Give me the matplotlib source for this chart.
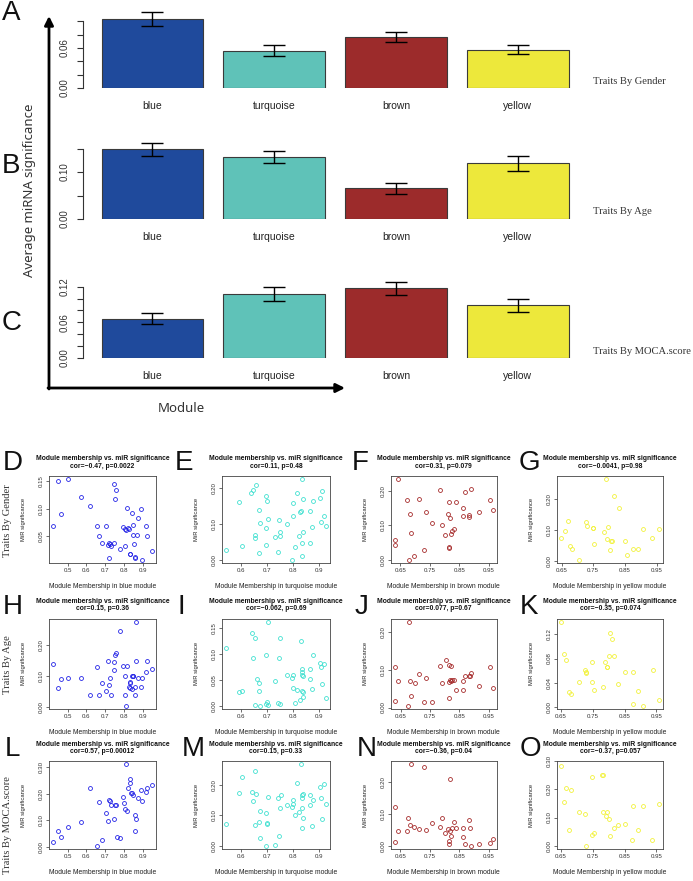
import matplotlib
matplotlib.use('Agg')
import matplotlib.pyplot as plt
from matplotlib.ticker import FormatStrFormatter
import numpy as np

# ---------------- data ----------------
modules = ['blue', 'turquoise', 'brown', 'yellow']
bar_colors = ['#1f4a9c', '#5fc2b8', '#9c2b2b', '#ede83b']
traits = ['Traits By Gender', 'Traits By Age', 'Traits By MOCA.score']

gender_mean = [0.103, 0.056, 0.0765, 0.0575]
gender_err = [0.0105, 0.0085, 0.008, 0.0068]
age_mean = [0.148, 0.132, 0.065, 0.1185]
age_err = [0.014, 0.012, 0.012, 0.016]
moca_mean = [0.066, 0.108, 0.117, 0.0885]
moca_err = [0.0088, 0.012, 0.0115, 0.0113]

gender_ticks = [0.00, 0.02, 0.04, 0.06, 0.08, 0.10]
gender_ticklabels = ['0.00', '', '', '0.06', '', '']
age_ticks = [0.00, 0.05, 0.10, 0.15]
age_ticklabels = ['0.00', '', '0.10', '']
moca_ticks = [0.00, 0.02, 0.04, 0.06, 0.08, 0.10, 0.12]
moca_ticklabels = ['0.00', '', '', '0.06', '', '', '0.12']

scatter_colors = {'blue': '#2323e6', 'turquoise': '#40e0d0', 'brown': '#a52a2a', 'yellow': '#f2f23a'}

# blue module
D_x = [0.423,0.449,0.463,0.500,0.570,0.619,0.654,0.668,0.684,0.702,0.712,0.719,0.726,0.728,0.719,0.744,0.744,0.758,0.753,0.777,0.793,0.802,0.805,0.811,0.816,0.818,0.825,0.830,0.833,0.839,0.844,0.846,0.854,0.856,0.858,0.865,0.874,0.891,0.895,0.914,0.919,0.947]
D_y = [0.068,0.149,0.091,0.153,0.121,0.104,0.069,0.051,0.039,0.069,0.035,0.038,0.036,0.033,0.012,0.039,0.144,0.134,0.117,0.027,0.067,0.033,0.064,0.061,0.102,0.065,0.064,0.019,0.018,0.093,0.071,0.053,0.036,0.013,0.011,0.052,0.083,0.100,0.008,0.069,0.051,0.024]
H_x = [0.423,0.449,0.463,0.500,0.570,0.619,0.654,0.668,0.684,0.702,0.712,0.719,0.726,0.728,0.744,0.744,0.753,0.758,0.777,0.793,0.802,0.805,0.811,0.816,0.825,0.828,0.830,0.833,0.839,0.842,0.844,0.847,0.856,0.858,0.861,0.863,0.874,0.891,0.895,0.914,0.919,0.947]
H_y = [0.139,0.061,0.089,0.091,0.091,0.036,0.128,0.036,0.077,0.050,0.148,0.071,0.091,0.039,0.118,0.144,0.166,0.174,0.244,0.130,0.038,0.098,0.003,0.132,0.064,0.076,0.060,0.080,0.058,0.099,0.100,0.099,0.062,0.036,0.147,0.274,0.094,0.062,0.094,0.112,0.148,0.120]
L_x = [0.423,0.449,0.463,0.500,0.570,0.619,0.654,0.668,0.684,0.702,0.712,0.719,0.726,0.728,0.744,0.749,0.758,0.763,0.777,0.793,0.800,0.805,0.811,0.816,0.821,0.828,0.832,0.837,0.840,0.846,0.856,0.858,0.861,0.874,0.891,0.895,0.914,0.919,0.947]
L_y = [0.021,0.062,0.040,0.077,0.095,0.220,0.006,0.170,0.027,0.126,0.099,0.175,0.173,0.158,0.106,0.158,0.158,0.037,0.035,0.186,0.164,0.143,0.309,0.136,0.220,0.238,0.253,0.201,0.201,0.195,0.119,0.062,0.105,0.185,0.212,0.173,0.205,0.220,0.232]

# turquoise module
E_x = [0.539,0.591,0.601,0.639,0.646,0.656,0.652,0.653,0.668,0.672,0.670,0.694,0.695,0.699,0.696,0.703,0.730,0.747,0.743,0.750,0.751,0.776,0.797,0.802,0.802,0.807,0.816,0.823,0.828,0.831,0.835,0.836,0.837,0.841,0.841,0.865,0.867,0.876,0.880,0.904,0.910,0.913,0.922,0.929]
E_y = [0.027,0.163,0.039,0.188,0.195,0.209,0.069,0.061,0.140,0.103,0.020,0.042,0.180,0.166,0.089,0.115,0.064,0.112,0.022,0.077,0.068,0.100,0.000,0.159,0.122,0.037,0.187,0.067,0.135,0.138,0.011,0.047,0.226,0.171,0.078,0.138,0.048,0.091,0.165,0.172,0.105,0.193,0.122,0.096]
I_x = [0.539,0.591,0.601,0.640,0.647,0.653,0.653,0.659,0.669,0.670,0.672,0.694,0.694,0.698,0.702,0.704,0.730,0.747,0.750,0.743,0.750,0.776,0.797,0.802,0.802,0.807,0.815,0.826,0.830,0.835,0.835,0.835,0.836,0.840,0.841,0.841,0.866,0.867,0.876,0.880,0.904,0.910,0.913,0.922,0.929]
I_y = [0.112,0.027,0.029,0.140,0.093,0.131,0.002,0.052,0.043,0.029,0.000,0.098,0.003,0.007,0.001,0.162,0.048,0.093,0.131,0.006,0.004,0.060,0.053,0.059,0.035,0.005,0.030,0.010,0.125,0.071,0.065,0.029,0.059,0.017,0.027,0.057,0.070,0.051,0.033,0.098,0.083,0.075,0.041,0.080,0.015]
M_x = [0.539,0.591,0.601,0.640,0.647,0.653,0.656,0.653,0.670,0.672,0.673,0.694,0.698,0.700,0.696,0.704,0.730,0.747,0.750,0.743,0.753,0.776,0.797,0.802,0.802,0.807,0.816,0.823,0.830,0.834,0.835,0.836,0.837,0.841,0.841,0.866,0.867,0.876,0.880,0.904,0.910,0.913,0.922,0.929]
M_y = [0.071,0.173,0.228,0.179,0.149,0.246,0.170,0.070,0.078,0.025,0.116,0.108,0.075,0.073,0.000,0.162,0.002,0.031,0.123,0.158,0.167,0.136,0.128,0.150,0.139,0.101,0.206,0.113,0.269,0.166,0.125,0.059,0.158,0.172,0.092,0.169,0.136,0.064,0.150,0.193,0.158,0.089,0.204,0.138]

# brown module
F_x = [0.631,0.631,0.642,0.674,0.678,0.683,0.688,0.698,0.713,0.730,0.737,0.759,0.783,0.792,0.803,0.816,0.813,0.820,0.814,0.816,0.822,0.824,0.832,0.839,0.862,0.868,0.862,0.884,0.884,0.889,0.916,0.953,0.963]
F_y = [0.059,0.044,0.235,0.174,0.000,0.135,0.077,0.010,0.178,0.029,0.140,0.107,0.203,0.100,0.071,0.170,0.133,0.122,0.033,0.037,0.076,0.085,0.090,0.169,0.150,0.198,0.128,0.132,0.124,0.206,0.138,0.175,0.146]
J_x = [0.630,0.631,0.642,0.674,0.678,0.683,0.687,0.698,0.713,0.730,0.737,0.758,0.783,0.791,0.803,0.814,0.814,0.816,0.817,0.820,0.822,0.824,0.832,0.838,0.861,0.862,0.868,0.884,0.887,0.889,0.916,0.953,0.963]
J_y = [0.108,0.017,0.070,0.005,0.226,0.071,0.031,0.064,0.089,0.015,0.077,0.015,0.109,0.064,0.125,0.067,0.025,0.113,0.072,0.110,0.070,0.072,0.073,0.047,0.071,0.047,0.082,0.082,0.084,0.091,0.056,0.106,0.051]
N_x = [0.631,0.631,0.642,0.674,0.677,0.683,0.688,0.698,0.713,0.730,0.737,0.758,0.783,0.791,0.803,0.813,0.814,0.816,0.817,0.820,0.822,0.824,0.832,0.838,0.861,0.862,0.868,0.884,0.887,0.889,0.916,0.953,0.963]
N_y = [0.121,0.013,0.046,0.047,0.089,0.065,0.257,0.058,0.053,0.248,0.049,0.071,0.060,0.086,0.041,0.052,0.015,0.007,0.211,0.046,0.031,0.055,0.076,0.055,0.055,0.028,0.005,0.082,0.055,0.000,0.007,0.008,0.021]

# yellow module
G_x = [0.648,0.662,0.670,0.677,0.683,0.706,0.726,0.730,0.748,0.749,0.754,0.783,0.791,0.794,0.797,0.802,0.806,0.808,0.815,0.831,0.852,0.857,0.876,0.892,0.907,0.937,0.959]
G_y = [0.073,0.097,0.129,0.047,0.037,0.004,0.125,0.111,0.105,0.106,0.055,0.094,0.262,0.072,0.109,0.034,0.064,0.064,0.209,0.169,0.064,0.020,0.039,0.039,0.104,0.073,0.101]
K_x = [0.651,0.662,0.668,0.677,0.683,0.706,0.726,0.730,0.730,0.748,0.749,0.754,0.784,0.790,0.794,0.795,0.802,0.806,0.810,0.816,0.831,0.852,0.875,0.876,0.893,0.907,0.938,0.959]
K_y = [0.140,0.088,0.077,0.026,0.022,0.042,0.061,0.058,0.056,0.074,0.041,0.029,0.033,0.074,0.067,0.067,0.084,0.121,0.112,0.084,0.038,0.058,0.005,0.058,0.027,0.003,0.061,0.012]
O_x = [0.651,0.662,0.668,0.677,0.683,0.706,0.726,0.730,0.748,0.749,0.754,0.783,0.779,0.782,0.791,0.794,0.802,0.806,0.816,0.831,0.852,0.874,0.876,0.893,0.907,0.937,0.959]
O_y = [0.282,0.154,0.203,0.057,0.197,0.119,0.112,0.000,0.242,0.040,0.047,0.119,0.250,0.252,0.104,0.121,0.096,0.035,0.064,0.072,0.078,0.022,0.142,0.057,0.142,0.022,0.147]

cor_texts = {
    'D': 'cor=\u22120.47, p=0.0022', 'E': 'cor=0.11, p=0.48', 'F': 'cor=0.31, p=0.079', 'G': 'cor=\u22120.0041, p=0.98',
    'H': 'cor=0.15, p=0.36', 'I': 'cor=\u22120.062, p=0.69', 'J': 'cor=0.077, p=0.67', 'K': 'cor=\u22120.35, p=0.074',
    'L': 'cor=0.57, p=0.00012', 'M': 'cor=0.15, p=0.33', 'N': 'cor=\u22120.36, p=0.04', 'O': 'cor=\u22120.37, p=0.057',
}
xticks_bt = [0.5, 0.6, 0.7, 0.8, 0.9]
xticks_tq = [0.6, 0.7, 0.8, 0.9]
xticks_by = [0.65, 0.75, 0.85, 0.95]
yticks = {
    'D': [0.05, 0.10, 0.15], 'E': [0.0, 0.1, 0.2], 'F': [0.0, 0.1, 0.2], 'G': [0.0, 0.1, 0.2],
    'H': [0.0, 0.1, 0.2], 'I': [0.0, 0.05, 0.10, 0.15], 'J': [0.0, 0.1, 0.2], 'K': [0.0, 0.04, 0.08, 0.12],
    'L': [0.0, 0.1, 0.2, 0.3], 'M': [0.0, 0.1, 0.2], 'N': [0.0, 0.1, 0.2], 'O': [0.0, 0.1, 0.2, 0.3],
}

# ---------------- figure ----------------
W, H = 693, 881
fig = plt.figure(figsize=(W / 100, H / 100), dpi=100)
SANS = ['Liberation Sans', 'DejaVu Sans']
SERIF = ['Liberation Serif', 'DejaVu Serif']


def axes_px(l, t, r, b):
    return fig.add_axes([l / W, 1 - b / H, (r - l) / W, (b - t) / H])


def ftext(x, y, s, **kw):
    return fig.text(x / W, 1 - y / H, s, **kw)


# ---- top bar charts ----
centers = 0.7 + 1.2 * np.arange(len(modules))
bar_specs = [
    (gender_mean, gender_err, 88.0, 666.7, gender_ticks, gender_ticklabels, 'A', 13, traits[0], 82),
    (age_mean, age_err, 219.0, 470.0, age_ticks, age_ticklabels, 'B', 166, traits[1], 212),
    (moca_mean, moca_err, 357.7, 591.7, moca_ticks, moca_ticklabels, 'C', 323, traits[2], 352),
]
for mean, err, zero_px, scale, ticks, tlabels, letter, ly, trait, ty in bar_specs:
    ax = axes_px(83, zero_px - 80, 590, zero_px)
    ax.set_xlim(0.016, 5.011)
    ax.set_ylim(0, 80 / scale)
    ax.bar(centers, mean, width=1.0, color=bar_colors, edgecolor='#3a3a3a', linewidth=0.8)
    ax.errorbar(centers, mean, yerr=err, fmt='none', ecolor='black', elinewidth=1.0,
                capsize=7.6, capthick=1.0, clip_on=False)
    for s in ['top', 'right', 'bottom']:
        ax.spines[s].set_visible(False)
    ax.spines['left'].set_bounds(0, ticks[-1])
    ax.spines['left'].set_linewidth(0.8)
    ax.spines['left'].set_color('#333333')
    ax.set_yticks(ticks)
    ax.set_yticklabels(tlabels, rotation=90, va='center', fontsize=7, family=SANS, color='#333333')
    ax.set_xticks(centers)
    ax.set_xticklabels(modules, fontsize=7.5, family=SANS, color='#222222')
    ax.tick_params(axis='x', length=0, pad=9.5)
    ax.tick_params(axis='y', length=4.3, width=0.8, pad=5, color='#333333')
    ax.patch.set_visible(False)
    ftext(2, ly, letter, fontsize=20, family=SANS, ha='left', va='center', color='#111111')
    ftext(593, ty, trait, fontsize=7.6, family=SERIF, ha='left', va='center', color='#333333')

# big axis arrows
fig.add_artist(plt.matplotlib.patches.FancyArrowPatch(
    (49 / W, 1 - 389 / H), (49 / W, 1 - 16 / H), transform=fig.transFigure,
    arrowstyle='-|>', mutation_scale=13, lw=2.0, color='black', shrinkA=0, shrinkB=0))
fig.add_artist(plt.matplotlib.patches.FancyArrowPatch(
    (48 / W, 1 - 388 / H), (345 / W, 1 - 388 / H), transform=fig.transFigure,
    arrowstyle='-|>', mutation_scale=13, lw=2.0, color='black', shrinkA=0, shrinkB=0))
ftext(30, 190, 'Average miRNA significance', rotation=90, fontsize=9.5,
      family=['Noto Sans', 'DejaVu Sans'], ha='center', va='center', color='#333333')
ftext(181, 408, 'Module', fontsize=9.5, family=['Noto Sans', 'DejaVu Sans'],
      ha='center', va='center', color='#333333')

# ---- scatter panels ----
col_l = [49, 221.7, 390.7, 557]
col_r = [156, 330, 496.7, 663.3]
row_t = [476, 618.5, 761]
row_b = [563, 709, 849]
letter_left = [[3, 175, 352, 519], [3, 177, 355, 520], [5, 182, 357, 520]]
letter_y = [463, 607, 749]

panels = [
    [('D', D_x, D_y, 'blue'), ('E', E_x, E_y, 'turquoise'), ('F', F_x, F_y, 'brown'), ('G', G_x, G_y, 'yellow')],
    [('H', H_x, H_y, 'blue'), ('I', I_x, I_y, 'turquoise'), ('J', J_x, J_y, 'brown'), ('K', K_x, K_y, 'yellow')],
    [('L', L_x, L_y, 'blue'), ('M', M_x, M_y, 'turquoise'), ('N', N_x, N_y, 'brown'), ('O', O_x, O_y, 'yellow')],
]
xtick_map = {'blue': (xticks_bt, '%.1f'), 'turquoise': (xticks_tq, '%.1f'),
             'brown': (xticks_by, '%.2f'), 'yellow': (xticks_by, '%.2f')}

for r, row in enumerate(panels):
    for c, (name, xs, ys, mod) in enumerate(row):
        l, rr, t, b = col_l[c], col_r[c], row_t[r], row_b[r]
        ax = axes_px(l, t, rr, b)
        ax.plot(xs, ys, 'o', mfc='none', mec=scatter_colors[mod], ms=2.8, mew=0.6, ls='none')
        ax.margins(0.04)
        xt, xf = xtick_map[mod]
        ax.set_xticks(xt)
        ax.xaxis.set_major_formatter(FormatStrFormatter(xf))
        ax.set_yticks(yticks[name])
        ax.yaxis.set_major_formatter(FormatStrFormatter('%.2f'))
        ax.tick_params(length=2.2, width=0.5, labelsize=4.4, colors='#333333', pad=1.6)
        for lab in ax.get_yticklabels():
            lab.set_rotation(90)
            lab.set_va('center')
            lab.set_family(SANS)
        for lab in ax.get_xticklabels():
            lab.set_family(SANS)
        for s in ax.spines.values():
            s.set_linewidth(0.6)
            s.set_color('#444444')
        cx = (l + rr) / 2
        ftext(cx, t - 17, 'Module membership vs. miR significance', fontsize=4.9, fontweight='bold',
              family=SANS, ha='center', va='center', color='#111111')
        ftext(cx, t - 9.5, cor_texts[name], fontsize=4.9, fontweight='bold',
              family=SANS, ha='center', va='center', color='#111111')
        ftext(cx, b + 23, 'Module Membership in %s module' % mod, fontsize=4.9,
              family=SANS, ha='center', va='center', color='#222222')
        ftext(l - 25, (t + b) / 2, 'MiR significance', fontsize=4.2, rotation=90,
              family=SANS, ha='center', va='center', color='#222222')
        ftext(letter_left[r][c], letter_y[r], name, fontsize=20, family=SANS,
              ha='left', va='center', color='#111111')

row_label_y = [521, 665, 825]
for lab, yy in zip(traits, row_label_y):
    ftext(8, yy, lab, rotation=90, fontsize=7.6, family=SERIF, ha='center', va='center', color='#333333')

fig.savefig('out.png', dpi=100)
